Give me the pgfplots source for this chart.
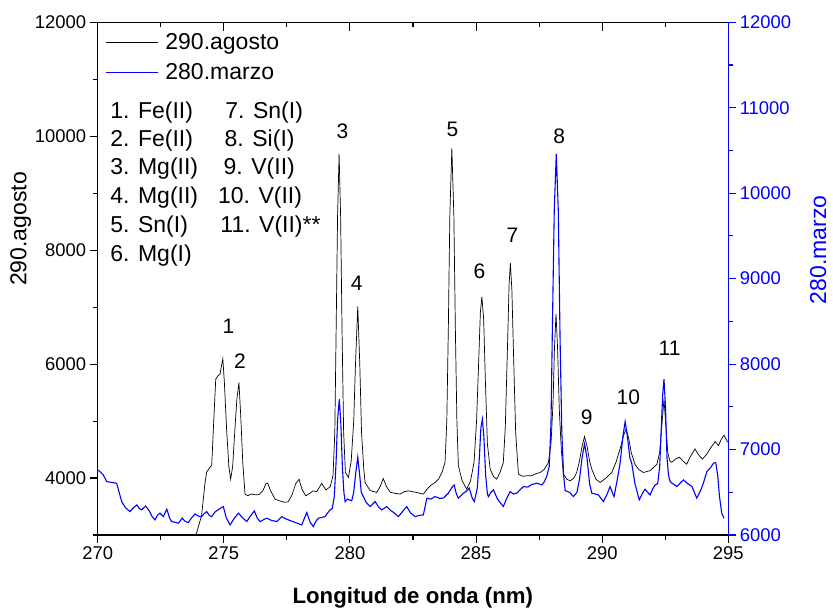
\documentclass[border=0pt]{standalone}
\usepackage{fontspec}
\setmainfont{Liberation Sans}
\usepackage{pgfplots}
\pgfplotsset{compat=1.18}
\begin{document}
\begin{tikzpicture}
\pgfplotsset{
  common/.style={
    scale only axis, width=630.6pt, height=512.7pt,
    xmin=270, xmax=295,
    /pgf/number format/assume math mode=true,
    /pgf/number format/set thousands separator={},
    scaled ticks=false,
    tick label style={font=\fontsize{18.4}{18.4}\selectfont},
    major tick length=8pt, minor tick length=4.5pt,
  }
}
\begin{axis}[common,
  ymin=3000, ymax=12000,
  xtick={270,275,...,295}, minor xtick={272.5,277.5,...,292.5},
  ytick={4000,6000,...,12000}, minor ytick={3000,5000,...,11000},
  xtick pos=left, ytick pos=left, tick align=outside,
  axis line style={line width=1.1pt},
  tick style={line width=1.1pt, black},
  xlabel={Longitud de onda (nm)},
  xlabel style={at={(axis description cs:0.4997,-0.1229)}, anchor=center, font=\fontsize{22.2}{22.2}\selectfont\bfseries},
  ylabel={290.agosto},
  ylabel style={at={(axis description cs:-0.1221,0.597)}, anchor=center, font=\fontsize{23}{23}\selectfont},
  legend style={at={(axis description cs:0,1)}, anchor=north west, draw=none, fill=none,
    inner xsep=7.6pt, inner ysep=9.3pt, outer sep=0pt, row sep=8.4pt, column sep=5pt,
    font=\fontsize{23}{23}\selectfont, cells={anchor=west}},
  legend image code/.code={\draw[#1] (0pt,0pt) -- (52pt,0pt);},
]
\coordinate (O) at (rel axis cs:0,0);
\addplot[black, line width=0.7pt] coordinates {
(273.60,2500) (273.80,2850) (273.93,3050) (274.12,3343) (274.25,3900) (274.32,4103)
(274.45,4190) (274.52,4219) (274.60,5000) (274.68,5737) (274.78,5800) (274.85,5824)
(274.92,6000) (274.96,6094) (275.02,5700) (275.11,4861) (275.20,4200) (275.27,3980)
(275.35,4200) (275.44,4861) (275.52,5400) (275.60,5674) (275.67,5100) (275.75,4283)
(275.84,3718) (275.95,3690) (276.10,3720) (276.24,3705) (276.40,3710) (276.55,3780)
(276.67,3900) (276.74,3910) (276.85,3780) (277.03,3630) (277.20,3600) (277.40,3575)
(277.55,3583) (277.70,3700) (277.85,3900) (277.98,3980) (278.10,3800) (278.25,3688)
(278.40,3730) (278.54,3775) (278.68,3760) (278.88,3905) (279.05,3790) (279.22,3850)
(279.33,4050) (279.40,4800) (279.45,6500) (279.51,8600) (279.57,9689) (279.63,8600)
(279.69,6500) (279.75,4800) (279.82,4100) (279.94,4010) (280.05,4300) (280.15,5000)
(280.22,6000) (280.31,7015) (280.39,6000) (280.46,4800) (280.55,4150) (280.60,3923)
(280.80,3780) (281.06,3747) (281.20,3850) (281.32,3992) (281.45,3850) (281.60,3750)
(281.80,3730) (281.99,3718) (282.15,3760) (282.32,3775) (282.60,3750) (282.91,3718)
(283.05,3800) (283.18,3863) (283.40,3930) (283.51,3980) (283.65,4100) (283.77,4273)
(283.84,5000) (283.90,6600) (283.96,8600) (284.04,9788) (284.12,8600) (284.18,6600)
(284.24,5000) (284.30,4213) (284.45,3950) (284.63,3805) (284.78,3950) (284.92,4273)
(285.02,5000) (285.10,6000) (285.17,6900) (285.23,7179) (285.30,6800) (285.37,5700)
(285.45,4600) (285.56,4155) (285.70,4020) (285.82,3980) (285.95,4100) (286.08,4273)
(286.16,4900) (286.24,6200) (286.31,7400) (286.36,7775) (286.42,7300) (286.49,6100)
(286.57,4800) (286.68,4068) (286.85,4030) (287.01,4039) (287.20,4040) (287.40,4080)
(287.54,4097) (287.70,4150) (287.87,4273) (287.97,4600) (288.05,5300) (288.11,6300)
(288.17,6882) (288.23,6300) (288.30,5200) (288.38,4500) (288.46,4068) (288.60,3980)
(288.73,3950) (288.88,4000) (288.99,4097) (289.10,4300) (289.20,4550) (289.30,4728)
(289.40,4560) (289.50,4300) (289.59,4155) (289.75,3980) (289.92,3923) (290.15,4000)
(290.38,4097) (290.55,4280) (290.71,4511) (290.85,4750) (290.95,4861) (291.05,4700)
(291.15,4450) (291.30,4243) (291.45,4150) (291.63,4097) (291.90,4130) (292.17,4243)
(292.28,4450) (292.36,4900) (292.45,5381) (292.52,4950) (292.60,4450) (292.68,4300)
(292.76,4278) (292.90,4330) (293.06,4366) (293.20,4300) (293.35,4243) (293.50,4380)
(293.68,4511) (293.80,4420) (293.97,4331) (294.15,4420) (294.30,4530) (294.48,4640)
(294.61,4570) (294.72,4680) (294.83,4751) (294.95,4650) (295.00,4623)
};
\addlegendentry{290.agosto}
\addlegendimage{blue, line width=1.1pt}
\addlegendentry{280.marzo}
\begin{scope}[every node/.style={anchor=west, inner sep=0pt, text height=16.5pt, text depth=0pt, font=\fontsize{23}{23}\selectfont}]
\node at (axis description cs:0.0198,0.8289) {1. Fe(II)};
\node at (axis description cs:0.0198,0.7737) {2. Fe(II)};
\node at (axis description cs:0.0198,0.7183) {3. Mg(II)};
\node at (axis description cs:0.0198,0.6631) {4. Mg(II)};
\node at (axis description cs:0.0198,0.6066) {5. Sn(I)};
\node at (axis description cs:0.0198,0.5494) {6. Mg(I)};
\node at (axis description cs:0.2022,0.8289) {7. Sn(I)};
\node at (axis description cs:0.2011,0.7737) {8. Si(I)};
\node at (axis description cs:0.1995,0.7183) {9. V(II)};
\node at (axis description cs:0.1905,0.6631) {10. V(II)};
\node at (axis description cs:0.1943,0.6066) {11. V(II)**};
\end{scope}
\begin{scope}[every node/.style={anchor=center, inner sep=0pt, text height=15pt, text depth=0pt, font=\fontsize{21}{21}\selectfont}]
\node at (axis cs:275.18,6665) {1};
\node at (axis cs:275.64,6057) {2};
\node at (axis cs:279.70,10084) {3};
\node at (axis cs:280.27,7418) {4};
\node at (axis cs:284.06,10126) {5};
\node at (axis cs:285.13,7633) {6};
\node at (axis cs:286.44,8258) {7};
\node at (axis cs:288.30,9997) {8};
\node at (axis cs:289.39,5077) {9};
\node at (axis cs:291.04,5416) {10};
\node at (axis cs:292.67,6274) {11};
\end{scope}
\end{axis}
\begin{axis}[common,
  ymin=0, ymax=1,
  axis x line*=top, axis y line=none,
  xtick={270,275,...,295}, minor xtick={272.5,277.5,...,292.5},
  xticklabels={}, tick align=inside,
  x axis line style={line width=1.1pt, -},
  xtick style={line width=1.1pt, black},
  major tick length=9pt, minor tick length=4.5pt,
]
\end{axis}
\begin{axis}[common,
  ymin=6000, ymax=12000,
  axis x line=none, axis y line*=right,
  ytick={6000,7000,...,12000}, minor ytick={6500,7500,...,11500},
  tick align=outside,
  y axis line style={blue, line width=1.1pt, -},
  ytick style={blue, line width=1.1pt},
  yticklabel style={blue},
  ylabel={280.marzo},
  ylabel style={blue, at={(axis description cs:1.1427,0.556)}, anchor=center, font=\fontsize{23}{23}\selectfont},
]
\addplot[blue, line width=1.1pt] coordinates {
(270.00,6762) (270.10,6740) (270.22,6703) (270.36,6625) (270.55,6615) (270.75,6606)
(270.85,6500) (270.95,6391) (271.10,6320) (271.28,6274) (271.42,6320) (271.55,6352)
(271.65,6310) (271.74,6294) (271.90,6340) (272.05,6280) (272.15,6220) (272.27,6177)
(272.37,6230) (272.47,6255) (272.60,6215) (272.74,6302) (272.85,6200) (272.93,6157)
(273.05,6150) (273.20,6138) (273.35,6197) (273.47,6160) (273.59,6145) (273.72,6200)
(273.86,6247) (274.00,6220) (274.12,6215) (274.22,6250) (274.32,6274) (274.42,6230)
(274.52,6215) (274.65,6270) (274.80,6300) (274.98,6333) (275.10,6200) (275.25,6118)
(275.40,6190) (275.58,6255) (275.75,6200) (275.91,6157) (276.05,6220) (276.21,6282)
(276.32,6200) (276.44,6157) (276.58,6180) (276.70,6197) (276.90,6170) (277.10,6157)
(277.30,6215) (277.45,6190) (277.56,6177) (277.80,6150) (278.09,6118) (278.20,6200)
(278.29,6262) (278.42,6150) (278.55,6099) (278.65,6160) (278.75,6197) (279.01,6215)
(279.20,6290) (279.30,6310) (279.38,6450) (279.45,6850) (279.51,7350) (279.58,7589)
(279.64,7300) (279.70,6800) (279.76,6500) (279.81,6391) (279.90,6420) (280.07,6400)
(280.15,6500) (280.22,6700) (280.31,6910) (280.38,6720) (280.45,6500) (280.53,6450)
(280.65,6380) (280.80,6333) (281.00,6391) (281.13,6330) (281.26,6294) (281.46,6333)
(281.60,6290) (281.75,6260) (281.92,6215) (282.10,6280) (282.25,6333) (282.40,6260)
(282.58,6215) (282.75,6230) (282.91,6235) (283.05,6431) (283.20,6420) (283.37,6450)
(283.55,6430) (283.70,6431) (283.90,6489) (284.05,6560) (284.13,6586) (284.22,6480)
(284.30,6431) (284.50,6489) (284.65,6520) (284.73,6548) (284.85,6430) (284.93,6391)
(285.05,6550) (285.13,6900) (285.19,7250) (285.25,7355) (285.31,7150) (285.38,6700)
(285.45,6480) (285.49,6450) (285.59,6500) (285.69,6528) (285.85,6420) (286.08,6333)
(286.20,6420) (286.35,6508) (286.48,6480) (286.61,6489) (286.75,6530) (286.88,6567)
(287.05,6560) (287.20,6590) (287.41,6606) (287.61,6586) (287.70,6620) (287.80,6684)
(287.90,6800) (287.97,7300) (288.03,8500) (288.10,9800) (288.18,10459) (288.26,9800)
(288.33,8300) (288.40,7200) (288.47,6700) (288.53,6520) (288.70,6500) (288.86,6450)
(289.00,6500) (289.10,6650) (289.20,6900) (289.30,7066) (289.40,6900) (289.50,6600)
(289.59,6489) (289.72,6480) (289.85,6469) (290.05,6391) (290.20,6480) (290.31,6567)
(290.40,6500) (290.47,6450) (290.60,6650) (290.71,6840) (290.82,7150) (290.91,7327)
(291.00,7150) (291.10,6900) (291.17,6840) (291.30,6600) (291.47,6411) (291.60,6490)
(291.70,6536) (291.80,6500) (291.90,6469) (292.00,6540) (292.10,6586) (292.20,6600)
(292.28,6800) (292.35,7300) (292.40,7650) (292.45,7823) (292.51,7500) (292.57,6900)
(292.63,6700) (292.69,6625) (292.80,6600) (292.96,6567) (293.10,6610) (293.22,6645)
(293.40,6600) (293.56,6567) (293.68,6480) (293.75,6431) (293.90,6520) (294.01,6606)
(294.15,6742) (294.30,6790) (294.41,6840) (294.50,6847) (294.58,6700) (294.65,6450)
(294.74,6255) (294.83,6197)
};
\end{axis}
\path (O) ++(-97.7pt,-79pt) rectangle ++(833pt,614pt);
\end{tikzpicture}
\end{document}
